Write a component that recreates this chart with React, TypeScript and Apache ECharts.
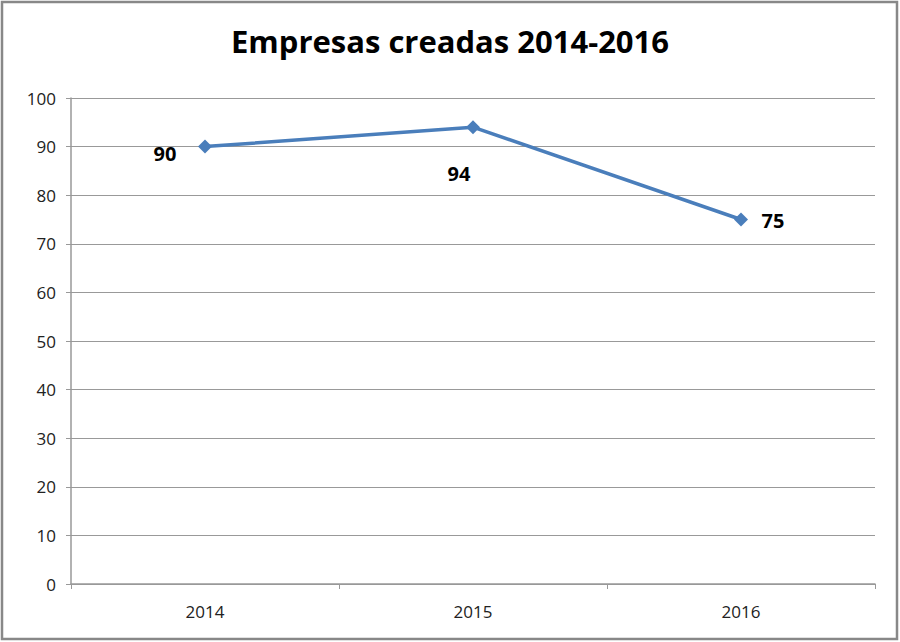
import React, { useEffect, useRef } from 'react'
import * as echarts from 'echarts'

const years = ['2014', '2015', '2016']
const empresas = [90, 94, 75]
const yTicks = [0, 10, 20, 30, 40, 50, 60, 70, 80, 90, 100]

// where each value label sits relative to its point
const labelOffsets = [
    [-40, 7],
    [-14, 46],
    [32, 1],
]

const font = '"Open Sans", "Liberation Sans", sans-serif'

export default function App() {
    const chartRef = useRef(null)

    useEffect(() => {
        document.body.style.margin = '0'
        const chart = echarts.init(chartRef.current, null, { renderer: 'svg' })
        chart.setOption({
            animation: false,
            backgroundColor: '#fff',
            title: {
                text: 'Empresas creadas 2014-2016',
                left: 'center',
                top: 20,
                textStyle: { fontFamily: font, fontSize: 31, fontWeight: 'bold', color: '#000' },
            },
            graphic: [
                {
                    type: 'rect',
                    shape: { x: 2, y: 2, width: 895, height: 637 },
                    style: { fill: 'none', stroke: '#888', lineWidth: 2.5 },
                    silent: true,
                },
            ],
            grid: { left: 71, right: 25, top: 98, bottom: 58 },
            xAxis: {
                type: 'category',
                data: years,
                boundaryGap: true,
                axisLine: { lineStyle: { color: '#999', width: 1.5 } },
                axisTick: { show: true, length: 5, lineStyle: { color: '#999' } },
                axisLabel: { fontFamily: font, fontSize: 17, color: '#222', margin: 19 },
            },
            yAxis: {
                type: 'value',
                min: yTicks[0],
                max: yTicks[yTicks.length - 1],
                interval: 10,
                axisLine: { show: true, lineStyle: { color: '#999', width: 1.5 } },
                axisTick: { show: true, length: 5, lineStyle: { color: '#999' } },
                axisLabel: { fontFamily: font, fontSize: 17, color: '#222', margin: 15 },
                splitLine: { lineStyle: { color: '#999', width: 1.2 } },
            },
            series: [
                {
                    type: 'line',
                    data: empresas.map((v, i) => ({
                        value: v,
                        label: { offset: labelOffsets[i] },
                    })),
                    symbol: 'diamond',
                    symbolSize: 14,
                    lineStyle: { color: '#4a7ebb', width: 3.5 },
                    itemStyle: { color: '#4a7ebb' },
                    label: {
                        show: true,
                        position: 'inside',
                        fontFamily: font,
                        fontSize: 20,
                        fontWeight: 'bold',
                        color: '#000',
                    },
                },
            ],
        })
        return () => chart.dispose()
    }, [])

    return <div ref={chartRef} style={{ width: 900, height: 642 }} />
}
